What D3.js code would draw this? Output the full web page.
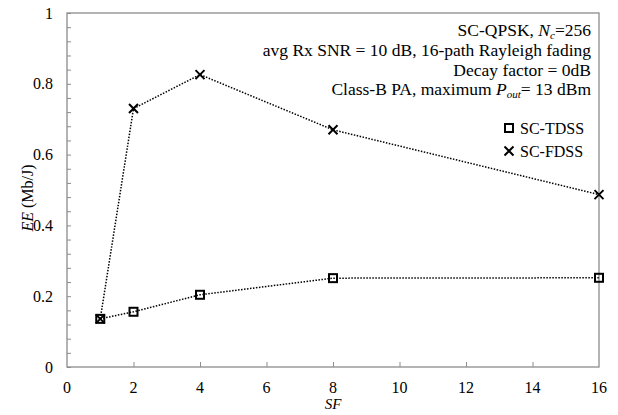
<!DOCTYPE html>
<html>
<head>
<meta charset="utf-8">
<script src="https://cdn.jsdelivr.net/npm/d3@7"></script>
<style>
  body { margin: 0; background: #fff; }
</style>
</head>
<body>
<div id="chart"></div>
<script>
let width = 618
  , height = 415
  , margin = {top: 13, right: 19, bottom: 48, left: 67};

// data
let sf = [1, 2, 4, 8, 16];
let tdss = [0.136, 0.156, 0.204, 0.251, 0.252];
let fdss = [0.136, 0.730, 0.826, 0.670, 0.487];
let xTicks = [0, 2, 4, 6, 8, 10, 12, 14, 16];
let yTicks = [0, 0.2, 0.4, 0.6, 0.8, 1];
let yMinor = d3.range(0, 1.0001, 0.04);

let font = "'Liberation Serif', 'Times New Roman', serif";

let svg = d3.select("#chart").append("svg")
  .attr("width", width).attr("height", height)
  .attr("font-family", font);

let x = d3.scaleLinear().domain([0, 16]).range([margin.left, width - margin.right]);
let y = d3.scaleLinear().domain([0, 1]).range([height - margin.bottom, margin.top]);

let axisColor = "#8c8c8c";

// frame
svg.append("rect")
  .attr("x", x(0)).attr("y", y(1))
  .attr("width", x(16) - x(0)).attr("height", y(0) - y(1))
  .attr("fill", "none").attr("stroke", axisColor).attr("stroke-width", 1.3);

// y axis (ticks inward)
let yAxis = svg.append("g").attr("transform", `translate(${x(0)},0)`)
  .call(d3.axisRight(y).tickValues(yMinor).tickSize(4).tickFormat(""));
yAxis.select(".domain").remove();
yAxis.selectAll("line").attr("stroke", axisColor).attr("stroke-width", 1);

svg.append("g").selectAll("text").data(yTicks).enter().append("text")
  .attr("x", x(0) - 14).attr("y", d => y(d)).attr("dy", "0.35em")
  .attr("text-anchor", "end").attr("font-size", 16)
  .text(d => d);

// x axis (ticks inward)
let xAxis = svg.append("g").attr("transform", `translate(0,${y(0)})`)
  .call(d3.axisTop(x).tickValues(xTicks.slice(1, -1)).tickSize(5).tickFormat(""));
xAxis.select(".domain").remove();
xAxis.selectAll("line").attr("stroke", axisColor).attr("stroke-width", 1);

svg.append("g").selectAll("text").data(xTicks).enter().append("text")
  .attr("x", d => x(d)).attr("y", y(0) + 26)
  .attr("text-anchor", "middle").attr("font-size", 16)
  .text(d => d);

// axis titles
svg.append("text")
  .attr("x", x(8)).attr("y", y(0) + 42)
  .attr("text-anchor", "middle").attr("font-size", 15).attr("font-style", "italic")
  .text("SF");

let yt = svg.append("text")
  .attr("transform", `translate(33,198) rotate(-90)`)
  .attr("text-anchor", "middle").attr("font-size", 16);
yt.append("tspan").attr("font-style", "italic").text("EE");
yt.append("tspan").text(" (Mb/J)");

// lines
let line = d3.line().x((d, i) => x(sf[i])).y(d => y(d));

[tdss, fdss].forEach(s => {
  svg.append("path").datum(s)
    .attr("d", line)
    .attr("fill", "none").attr("stroke", "#000")
    .attr("stroke-width", 1.5).attr("stroke-dasharray", "1.5,1.5");
});

// markers
function square(g, cx, cy) {
  g.append("rect").attr("x", cx - 4).attr("y", cy - 4).attr("width", 8).attr("height", 8)
    .attr("fill", "none").attr("stroke", "#000").attr("stroke-width", 2);
}
function cross(g, cx, cy) {
  let r = 4.5;
  g.append("path")
    .attr("d", `M${cx - r},${cy - r}L${cx + r},${cy + r}M${cx - r},${cy + r}L${cx + r},${cy - r}`)
    .attr("stroke", "#000").attr("stroke-width", 2).attr("fill", "none");
}

let marks = svg.append("g");
tdss.forEach((d, i) => square(marks, x(sf[i]), y(d)));
fdss.forEach((d, i) => cross(marks, x(sf[i]), y(d)));

// annotation
let note = svg.append("g").attr("font-size", 17.5).attr("text-anchor", "end");
let nx = 591;
let n1 = note.append("text").attr("x", nx).attr("y", 36);
n1.append("tspan").text("SC-QPSK, ");
n1.append("tspan").attr("font-style", "italic").text("N");
n1.append("tspan").attr("font-style", "italic").attr("font-size", 11).attr("dy", 3).text("c");
n1.append("tspan").attr("dy", -3).text("=256");
note.append("text").attr("x", nx).attr("y", 56).text("avg Rx SNR = 10 dB, 16-path Rayleigh fading");
note.append("text").attr("x", nx).attr("y", 76).text("Decay factor = 0dB");
let n4 = note.append("text").attr("x", nx).attr("y", 95);
n4.append("tspan").text("Class-B PA, maximum ");
n4.append("tspan").attr("font-style", "italic").text("P");
n4.append("tspan").attr("font-style", "italic").attr("font-size", 11).attr("dy", 3).text("out");
n4.append("tspan").attr("dy", -3).text("= 13 dBm");

// legend
let legend = svg.append("g");
square(legend, 509, 128);
cross(legend, 509, 151);
legend.append("text").attr("x", 520).attr("y", 128).attr("dy", "0.35em").attr("font-size", 16).text("SC-TDSS");
legend.append("text").attr("x", 520).attr("y", 151).attr("dy", "0.35em").attr("font-size", 16).text("SC-FDSS");
</script>
</body>
</html>
